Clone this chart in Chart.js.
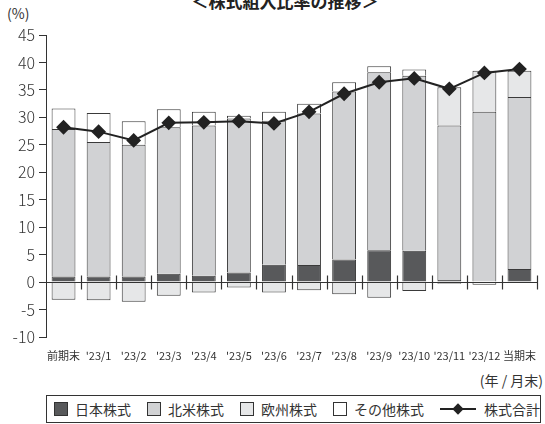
<!DOCTYPE html>
<html>
<head>
<meta charset="utf-8">
<script src="https://cdn.jsdelivr.net/npm/chart.js@4.4.0/dist/chart.umd.min.js"></script>
<style>
  body { margin: 0; background: #fff; font-family: "Noto Sans CJK JP", "Noto Sans", sans-serif; color: #333; }
  #wrap { position: relative; width: 545px; height: 424px; overflow: hidden; }
  #title { position: absolute; left: 0; width: 570px; top: -12px; text-align: center; font-size: 17px; font-weight: bold; color: #222; }
  #unit { position: absolute; left: 7px; top: 3px; font-size: 14px; }
  #xunit { position: absolute; right: 2px; top: 370px; font-size: 14px; }
  #chartBox { position: absolute; left: 0; top: 0; width: 545px; height: 368px; }
  #legend { position: absolute; left: 46px; top: 395px; width: 495px; height: 28px; border: 1px solid #333; box-sizing: border-box;
            display: flex; align-items: center; font-size: 14px; padding-left: 7px; white-space: nowrap; }
  .item { display: flex; align-items: center; margin-right: 16px; flex-shrink: 0; }
  .sw { width: 12px; height: 12px; border: 1px solid #333; margin-right: 7px; flex-shrink: 0; }
  .ln { position: relative; width: 36px; height: 2px; background: #222; margin-right: 8px; flex-shrink: 0; }
  .ln::after { content: ""; position: absolute; left: 14px; top: -3px; width: 8px; height: 8px; background: #222; transform: rotate(45deg); }
</style>
</head>
<body>
<div id="wrap">
  <div id="title">＜株式組入比率の推移＞</div>
  <div id="unit">(%)</div>
  <div id="chartBox"><canvas id="chart" width="545" height="368"></canvas></div>
  <div id="xunit">(年 / 月末)</div>
  <div id="legend"></div>
</div>
<script>
const categories = ['前期末', "'23/1", "'23/2", "'23/3", "'23/4", "'23/5", "'23/6", "'23/7", "'23/8", "'23/9", "'23/10", "'23/11", "'23/12", '当期末'];
const japan = [1.0, 1.0, 1.0, 1.5, 1.15, 1.75, 3.15, 3.1, 4.1, 5.8, 5.7, 0.4, 0.0, 2.4];
const northAmerica = [26.9, 24.5, 24.0, 26.7, 27.35, 28.05, 26.25, 27.6, 30.6, 32.4, 31.9, 28.1, 31.0, 31.3];
const europe = [-3.2, -3.3, -3.6, -2.5, -1.9, -1.0, -1.9, -1.5, -2.2, -2.85, -1.6, 7.0, 7.5, 4.8];
const others = [3.7, 5.3, 4.3, 3.3, 2.5, 0.5, 1.6, 1.8, 1.7, 1.1, 1.1, -0.3, -0.5, 0.0];
const total = [28.2, 27.4, 25.8, 29.0, 29.1, 29.3, 28.9, 31.0, 34.3, 36.4, 37.1, 35.2, 38.1, 38.8];
const yTicks = [-10, -5, 0, 5, 10, 15, 20, 25, 30, 35, 40, 45];

const seriesNames = ['日本株式', '北米株式', '欧州株式', 'その他株式', '株式合計'];
const seriesColors = ['#58595b', '#d1d2d4', '#e6e7e8', '#ffffff', '#222222'];

// legend
const legend = document.getElementById('legend');
seriesNames.forEach((name, i) => {
    const item = document.createElement('div');
    item.className = 'item';
    const mark = document.createElement('div');
    if (i < 4) {
        mark.className = 'sw';
        mark.style.background = seriesColors[i];
    } else {
        mark.className = 'ln';
    }
    item.appendChild(mark);
    item.appendChild(document.createTextNode(name));
    legend.appendChild(item);
});

// zero line and small boundary ticks on it
const zeroLine = {
    id: 'zeroLine',
    afterDatasetsDraw(chart) {
        const { ctx, scales: { x, y }, chartArea } = chart;
        const y0 = Math.round(y.getPixelForValue(0)) + 0.5;
        const step = x.getPixelForValue(1) - x.getPixelForValue(0);
        ctx.save();
        ctx.strokeStyle = '#333';
        ctx.lineWidth = 1;
        ctx.beginPath();
        ctx.moveTo(chartArea.left, y0);
        ctx.lineTo(chartArea.right, y0);
        ctx.stroke();
        ctx.lineWidth = 1.2;
        for (let i = 1; i <= categories.length; i++) {
            const bx = Math.round(x.getPixelForValue(i) - step / 2) + 0.5;
            ctx.beginPath();
            ctx.moveTo(bx, y0 - 7);
            ctx.lineTo(bx, y0 + 7);
            ctx.stroke();
        }
        ctx.restore();
    }
};

const barSet = (i, data) => ({
    type: 'bar',
    label: seriesNames[i],
    data: data,
    backgroundColor: seriesColors[i],
    borderColor: '#3a3a3a',
    borderWidth: 1,
    barPercentage: 0.68,
    categoryPercentage: 1,
    stack: 's',
    order: 2
});

new Chart(document.getElementById('chart'), {
    type: 'bar',
    data: {
        labels: categories,
        datasets: [
            {
                type: 'line',
                label: seriesNames[4],
                data: total,
                borderColor: '#222',
                backgroundColor: '#222',
                borderWidth: 2,
                pointStyle: 'rectRot',
                pointRadius: 6,
                pointHoverRadius: 6,
                tension: 0,
                order: 1
            },
            barSet(0, japan),
            barSet(1, northAmerica),
            barSet(2, europe),
            barSet(3, others)
        ]
    },
    options: {
        responsive: false,
        animation: false,
        maintainAspectRatio: false,
        layout: { padding: { top: 35, right: 0, left: 0, bottom: 0 } },
        plugins: { legend: { display: false }, tooltip: { enabled: false } },
        scales: {
            x: {
                stacked: true,
                grid: { display: false },
                border: { display: false },
                ticks: {
                    autoSkip: false, maxRotation: 0, padding: 4,
                    color: '#333',
                    font: { family: "'Liberation Sans Narrow', 'Noto Sans CJK JP'", size: 11 }
                },
                afterFit: s => { s.height = 31; }
            },
            y: {
                stacked: true,
                min: -10, max: 45,
                afterBuildTicks: s => { s.ticks = yTicks.map(v => ({ value: v })); },
                grid: { drawOnChartArea: false, tickLength: 7, tickColor: '#333' },
                border: { color: '#333' },
                ticks: {
                    padding: 4, color: '#333',
                    font: { family: "'Noto Sans CJK JP'", size: 16, weight: 300 }
                },
                afterFit: s => { s.width = 46; }
            }
        }
    },
    plugins: [zeroLine]
});
</script>
</body>
</html>
